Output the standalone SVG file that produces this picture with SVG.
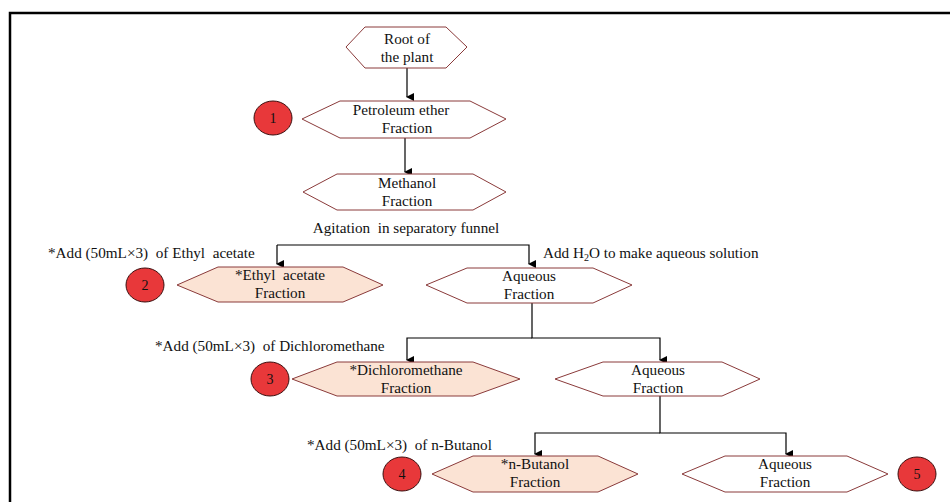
<svg xmlns="http://www.w3.org/2000/svg" width="950" height="502" viewBox="0 0 950 502">
<defs>
<marker id="ah" markerWidth="8" markerHeight="8" refX="4" refY="7" orient="auto" markerUnits="userSpaceOnUse" viewBox="0 0 8 8">
<path d="M0,0 L8,0 L4,8 Z" fill="#000"/>
</marker>
</defs>
<style>
text{font-family:"Liberation Serif","Times New Roman",serif;font-size:15.2px;fill:#111}
.c{text-anchor:middle}
.n{font-size:14px}
.hw{fill:#fff;stroke:#8a3a3a;stroke-width:1}
.hp{fill:#fbe3d4;stroke:#8a3a3a;stroke-width:1}
.ci{fill:#e8383a;stroke:#3a1010;stroke-width:1}
.ln{fill:none;stroke:#000;stroke-width:1.2}
</style>
<rect width="950" height="502" fill="#fff"/>
<path d="M10,502 V13 H950" fill="none" stroke="#000" stroke-width="2.5"/>

<g id="connectors">
<path class="ln" d="M407,68 V97" marker-end="url(#ah)"/>
<path class="ln" d="M405,138 V172" marker-end="url(#ah)"/>
<path class="ln" d="M277,245 H529 V264" marker-end="url(#ah)"/>
<path class="ln" d="M277,245 V264" marker-end="url(#ah)"/>
<path class="ln" d="M532,303 V338 H660 V360" marker-end="url(#ah)"/>
<path class="ln" d="M532,338 H407 V360" marker-end="url(#ah)"/>
<path class="ln" d="M660,396 V433 H786 V454" marker-end="url(#ah)"/>
<path class="ln" d="M660,433 H535 V454" marker-end="url(#ah)"/>
</g>

<g id="root">
<polygon class="hw" points="346,47 365,27 446,27 467,47 446,68 365,68"/>
<text class="c" x="407" y="44">Root of</text>
<text class="c" x="407" y="62">the plant</text>
</g>
<g id="petroleum">
<polygon class="hw" points="302,119 340,101 470,101 506,119 470,138 340,138"/>
<text class="c" x="401" y="115">Petroleum ether</text>
<text class="c" x="407" y="133">Fraction</text>
</g>
<g id="methanol">
<polygon class="hw" points="303,192 337,174 473,174 506,192 473,210 337,210"/>
<text class="c" x="407" y="188">Methanol</text>
<text class="c" x="407" y="206">Fraction</text>
</g>
<text class="c" x="406" y="233" xml:space="preserve">Agitation  in separatory funnel</text>

<text x="48" y="258" xml:space="preserve">*Add (50mL×3)  of Ethyl  acetate</text>
<text x="543" y="258">Add H<tspan font-size="10" dy="3">2</tspan><tspan dy="-3">O to make aqueous solution</tspan></text>

<g id="ethyl">
<polygon class="hp" points="177,285 218,267 343,267 383,285 343,302 218,302"/>
<text class="c" x="280" y="280" xml:space="preserve">*Ethyl  acetate</text>
<text class="c" x="280" y="298">Fraction</text>
</g>
<g id="aq1">
<polygon class="hw" points="426,285 467,268 593,268 632,285 593,303 467,303"/>
<text class="c" x="529" y="281">Aqueous</text>
<text class="c" x="529" y="299">Fraction</text>
</g>

<text x="155" y="351" xml:space="preserve">*Add (50mL×3)  of Dichloromethane</text>
<g id="dcm">
<polygon class="hp" points="292,379 337,362 473,362 520,379 473,396 337,396"/>
<text class="c" x="406" y="375">*Dichloromethane</text>
<text class="c" x="406" y="393">Fraction</text>
</g>
<g id="aq2">
<polygon class="hw" points="555,379 603,362 722,362 760,379 722,396 603,396"/>
<text class="c" x="658" y="375">Aqueous</text>
<text class="c" x="658" y="393">Fraction</text>
</g>

<text x="307" y="450" xml:space="preserve">*Add (50mL×3)  of n-Butanol</text>
<g id="butanol">
<polygon class="hp" points="432,474 473,456 598,456 638,474 598,492 473,492"/>
<text class="c" x="535" y="469">*n-Butanol</text>
<text class="c" x="535" y="487">Fraction</text>
</g>
<g id="aq3">
<polygon class="hw" points="682,474 725,456 847,456 888,474 847,492 725,492"/>
<text class="c" x="785" y="469">Aqueous</text>
<text class="c" x="785" y="487">Fraction</text>
</g>

<g id="n1"><ellipse class="ci" cx="273" cy="118" rx="19" ry="17"/><text class="c n" x="273" y="123">1</text></g>
<g id="n2"><ellipse class="ci" cx="145" cy="285" rx="19" ry="17"/><text class="c n" x="145" y="290">2</text></g>
<g id="n3"><ellipse class="ci" cx="270" cy="379" rx="19" ry="17"/><text class="c n" x="270" y="384">3</text></g>
<g id="n4"><ellipse class="ci" cx="402" cy="474" rx="19" ry="17"/><text class="c n" x="402" y="479">4</text></g>
<g id="n5"><ellipse class="ci" cx="917" cy="474" rx="19" ry="17"/><text class="c n" x="917" y="479">5</text></g>
</svg>
